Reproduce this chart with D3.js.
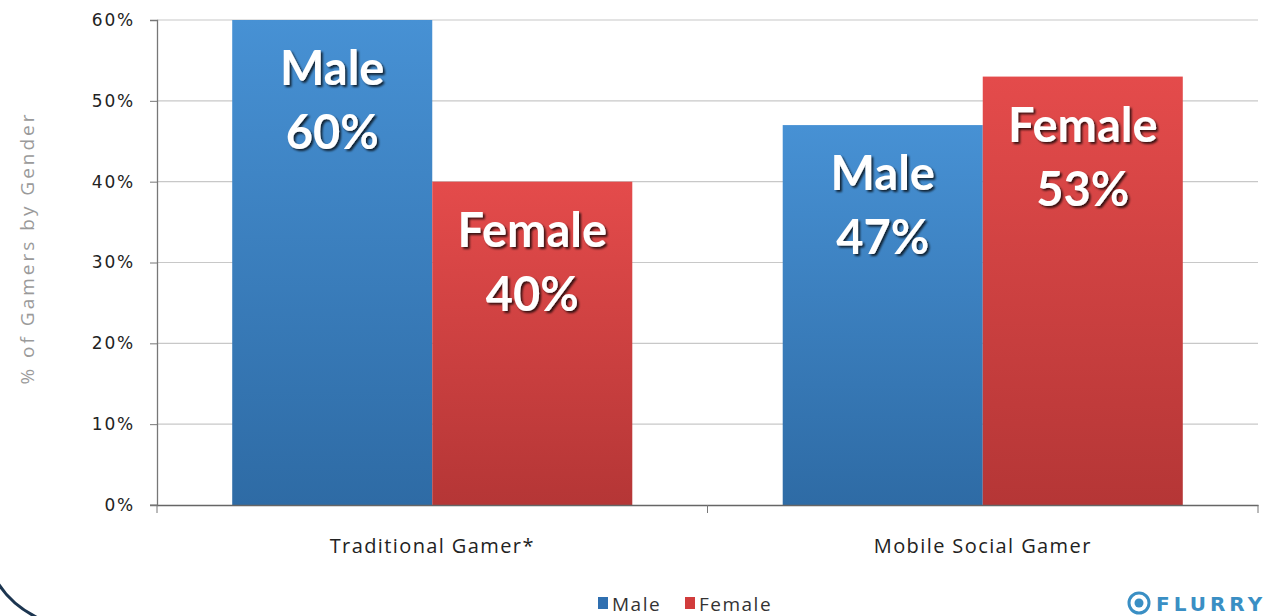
<!DOCTYPE html>
<html><head><meta charset="utf-8">
<script src="https://cdn.jsdelivr.net/npm/d3@7"></script>
<style>body{margin:0;background:#fff;}svg{display:block;}</style>
</head><body>
<svg id="c" width="1276" height="616"></svg>
<script>
const categories = ["Traditional Gamer*", "Mobile Social Gamer"];
const seriesNames = ["Male", "Female"];
const maleValues = [60, 47];
const femaleValues = [40, 53];
const yTicks = [0, 10, 20, 30, 40, 50, 60];

const svg = d3.select("#c");
const defs = svg.append("defs");
const gb = defs.append("linearGradient").attr("id","gBlue").attr("x1",0).attr("y1",0).attr("x2",0).attr("y2",1);
gb.append("stop").attr("offset","0%").attr("stop-color","#4791d4");
gb.append("stop").attr("offset","100%").attr("stop-color","#2e6ba5");
const gr = defs.append("linearGradient").attr("id","gRed").attr("x1",0).attr("y1",0).attr("x2",0).attr("y2",1);
gr.append("stop").attr("offset","0%").attr("stop-color","#e44b4b");
gr.append("stop").attr("offset","100%").attr("stop-color","#b53636");
const sh = defs.append("filter").attr("id","shadow").attr("x","-10%").attr("y","-10%").attr("width","130%").attr("height","130%");
sh.append("feDropShadow").attr("dx",2).attr("dy",2).attr("stdDeviation",1.2).attr("flood-color","#000").attr("flood-opacity",0.75);

const pLeft = 157, pRight = 1258, pTop = 20, pBottom = 505;
const x = d3.scaleBand().domain(categories).range([pLeft, pRight]).paddingInner(0).paddingOuter(0);
const xs = d3.scaleBand().domain(seriesNames).range([0, x.bandwidth()]).paddingInner(0).paddingOuter(0.376);
const y = d3.scaleLinear().domain([0, 60]).range([pBottom, pTop]);

// gridlines
svg.append("g").selectAll("line").data(yTicks.filter(d=>d>0)).join("line")
  .attr("x1", pLeft).attr("x2", pRight).attr("y1", d=>y(d)).attr("y2", d=>y(d))
  .attr("stroke", "#c8c8c8").attr("stroke-width", 1.2);

// bars
const data = [];
categories.forEach((c,i)=>{
  data.push({cat:c, s:"Male", v:maleValues[i]});
  data.push({cat:c, s:"Female", v:femaleValues[i]});
});
svg.append("g").selectAll("rect").data(data).join("rect")
  .attr("x", d=>x(d.cat)+xs(d.s)).attr("width", xs.bandwidth())
  .attr("y", d=>y(d.v)).attr("height", d=>y(0)-y(d.v))
  .attr("fill", d=>d.s==="Male"?"url(#gBlue)":"url(#gRed)");

// bar labels
const lab = svg.append("g").attr("font-family","Lato, 'Open Sans', sans-serif").attr("font-weight","bold")
  .attr("font-size", 47).attr("fill","#fff").attr("text-anchor","middle").attr("filter","url(#shadow)");
data.forEach(d=>{
  const cx = x(d.cat)+xs(d.s)+xs.bandwidth()/2;
  lab.append("text").attr("x",cx).attr("y",y(d.v)+65).text(d.s);
  lab.append("text").attr("x",cx).attr("y",y(d.v)+129).text(d.v+"%");
});

// y axis
const yAxis = svg.append("g").attr("transform",`translate(${pLeft},0)`)
  .call(d3.axisLeft(y).tickValues(yTicks).tickFormat(d=>d+"%").tickSize(7).tickPadding(15));
yAxis.select(".domain").attr("stroke","#777").attr("stroke-width",1.3);
yAxis.selectAll(".tick line").attr("stroke","#777");
yAxis.selectAll(".tick text").attr("font-family","'DejaVu Sans', sans-serif").attr("font-size",17).attr("fill","#222").attr("letter-spacing",1.8);

// x axis
const xAxis = svg.append("g").attr("transform",`translate(0,${pBottom})`)
  .call(d3.axisBottom(x).tickSize(0).tickPadding(34).tickSizeOuter(0));
xAxis.select(".domain").attr("stroke","#666").attr("stroke-width",1.6);
xAxis.selectAll(".tick text").attr("font-family","'Open Sans', sans-serif").attr("font-size",20).attr("letter-spacing",1.4).attr("fill","#222");
xAxis.append("g").selectAll("line").data([pLeft, x(categories[1]), pRight]).join("line")
  .attr("x1",d=>d).attr("x2",d=>d).attr("y1",0).attr("y2",8).attr("stroke","#777");
svg.append("line").attr("x1",pLeft-7).attr("x2",pLeft).attr("y1",pBottom).attr("y2",pBottom).attr("stroke","#777");

// y axis title
svg.append("text").attr("transform","translate(34,248) rotate(-90)").attr("text-anchor","middle")
  .attr("font-family","'Open Sans', sans-serif").attr("font-size",19).attr("letter-spacing",3).attr("fill","#9a9a9a").text("% of Gamers by Gender");

// legend
const leg = svg.append("g").attr("font-family","'Open Sans', sans-serif").attr("font-size",19).attr("letter-spacing",1.5).attr("fill","#333");
const legX = [598, 685];
seriesNames.forEach((s,i)=>{
  leg.append("rect").attr("x",legX[i]).attr("y",597).attr("width",10).attr("height",12)
    .attr("fill", i===0?"#2f6fb0":"#d13c3c");
  leg.append("text").attr("x",legX[i]+14).attr("y",611).text(s);
});

// Flurry logo
const logo = svg.append("g");
logo.append("circle").attr("cx",1139).attr("cy",603).attr("r",10).attr("fill","none").attr("stroke","#3a8fc4").attr("stroke-width",3);
logo.append("circle").attr("cx",1139).attr("cy",603).attr("r",4.5).attr("fill","#3a8fc4");
logo.append("text").attr("x",1156).attr("y",611).attr("font-family","'DejaVu Sans', sans-serif").attr("font-weight","bold")
  .attr("font-size",20).attr("letter-spacing",4).attr("fill","#3a8fc4").text("FLURRY");

// frame corner
svg.append("path").attr("d","M -2,583 Q 12,606 42,620").attr("fill","none").attr("stroke","#1c3550").attr("stroke-width",3);
</script>
</body></html>
